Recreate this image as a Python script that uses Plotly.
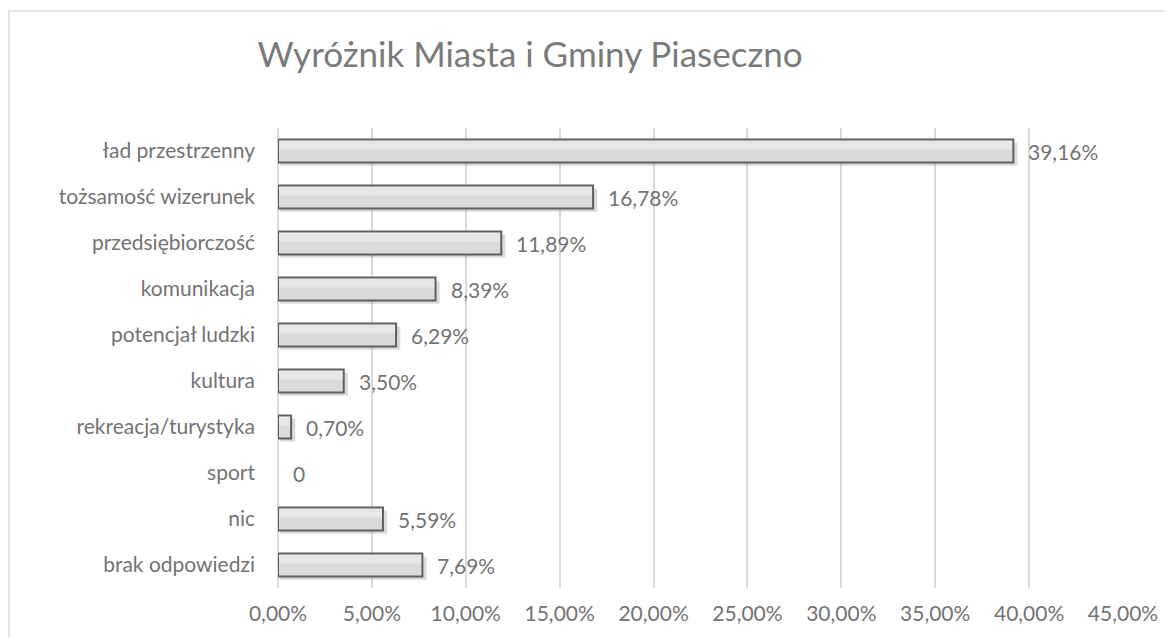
import plotly.graph_objects as go

categories = ["ład przestrzenny", "tożsamość wizerunek", "przedsiębiorczość", "komunikacja",
              "potencjał ludzki", "kultura", "rekreacja/turystyka", "sport", "nic", "brak odpowiedzi"]
values = [39.16, 16.78, 11.89, 8.39, 6.29, 3.50, 0.70, 0.0, 5.59, 7.69]
tick_vals = [0, 5, 10, 15, 20, 25, 30, 35, 40, 45]
tick_text = ["0,00%", "5,00%", "10,00%", "15,00%", "20,00%", "25,00%", "30,00%", "35,00%", "40,00%", "45,00%"]
title = "Wyróżnik Miasta i Gminy Piaseczno"

labels = ["0" if v == 0 else f"{v:.2f}%".replace(".", ",") for v in values]

FONT = "Lato, Open Sans, sans-serif"
TXT = "#737373"

W, H = 1165, 629
L, T, PW, PH = 270, 120, 845, 460

fig = go.Figure()
# soft shadow
fig.add_trace(go.Bar(
    y=categories, x=[v + 0.12 if v > 0 else 0 for v in values], orientation="h",
    width=0.5, offset=-0.25 + 0.07, base=0.1,
    marker=dict(color="rgba(0,0,0,0.14)", line=dict(width=0)),
    hoverinfo="skip", showlegend=False,
))
fig.add_trace(go.Bar(
    y=categories, x=values, orientation="h", width=0.5,
    marker=dict(color="#dadada",
                line=dict(color="#5f5f5f", width=[2 if v > 0 else 0 for v in values])),
    showlegend=False,
))
# lighter top highlight to mimic gradient
fig.add_trace(go.Bar(
    y=categories, x=[max(v - 0.12, 0) for v in values], orientation="h",
    width=0.2, offset=-0.23, base=0.06,
    marker=dict(color="rgba(255,255,255,0.35)", line=dict(width=0)),
    hoverinfo="skip", showlegend=False,
))

for c, v, t in zip(categories, values, labels):
    fig.add_annotation(x=v, y=c, text=t, showarrow=False, xanchor="left", xshift=13,
                       font=dict(family=FONT, size=21, color=TXT))

fig.update_layout(
    width=W, height=H,
    barmode="overlay",
    paper_bgcolor="white", plot_bgcolor="white",
    margin=dict(l=L, r=W - L - PW, t=T, b=H - T - PH, pad=0),
    title=dict(text=title, x=(522 / W), xanchor="center", y=1 - 47 / H, yanchor="middle",
               font=dict(family=FONT, size=35, color="#7a7a7a")),
    xaxis=dict(range=[0, 45], tickvals=tick_vals, ticktext=tick_text, showgrid=True,
               gridcolor="#d9d9d9", gridwidth=1.5, zeroline=True, zerolinecolor="#d9d9d9",
               zerolinewidth=1.5, showline=False,
               tickfont=dict(family=FONT, size=21, color=TXT), ticks="", ticklabelstandoff=11),
    yaxis=dict(autorange="reversed", showgrid=False, showline=False, zeroline=False, ticks="",
               tickfont=dict(family=FONT, size=21, color=TXT), ticklabelstandoff=22),
    font=dict(family=FONT, color=TXT),
    shapes=[dict(type="rect", xref="paper", yref="paper",
                 x0=(0 - L + 1) / PW, x1=(W + 20 - L) / PW,
                 y0=(T + PH - (H + 20)) / PH, y1=(T + PH - 3) / PH,
                 line=dict(color="#d9d9d9", width=1.5), layer="below")],
)
fig.write_html("out.html")
